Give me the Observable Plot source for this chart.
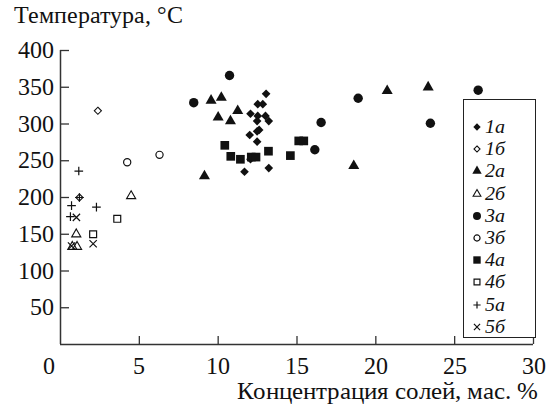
<!DOCTYPE html>
<html><head><meta charset="utf-8">
<script src="https://cdn.jsdelivr.net/npm/d3@7"></script>
<script src="https://cdn.jsdelivr.net/npm/@observablehq/plot@0.6"></script>
<style>
@font-face{font-family:'SerifX';font-style:normal;font-display:swap;src:local('Liberation Serif'),local('LiberationSerif'),local('Tinos'),local('Times New Roman');}
@font-face{font-family:'SerifX';font-style:italic;font-display:swap;src:local('Liberation Serif Italic'),local('LiberationSerif-Italic'),local('Tinos Italic');}
body{margin:0;background:#fff;}
#wrap{position:relative;width:555px;height:405px;font-family:'SerifX','Liberation Serif',serif;}
#legend{position:absolute;left:463px;top:99px;width:73px;height:239px;box-sizing:border-box;border:1.3px solid #222;background:#fff;padding-top:16px;}
.row{height:22.2px;display:flex;align-items:center;font-style:italic;font-size:19.5px;line-height:20px;color:#111;font-family:'SerifX','Liberation Serif',serif;}
.row svg{width:20px;height:20px;flex:none;}
</style></head>
<body><div id="wrap"></div>
<script>
// Series names (legend labels)
const series = ["1а","1б","2а","2б","3а","3б","4а","4б","5а","5б"];
// Salt concentration, wt % (x) and temperature, °C (y) per series
const x1a = [13.04,12.51,12.83,12.05,12.51,13.0,12.47,13.21,12.6,12.47,12.0,12.47,12.05,11.67,13.21];
const y1a = [341,327,327,314,311,311,304,304,292,290,285,276,252,235,240];
const x1b = [2.37,1.2];
const y1b = [318,200];
const x2a = [9.55,10.2,11.24,10.0,10.78,9.13,20.72,23.32,18.6];
const y2a = [332,336,318,309,304,229,345,350,243];
const x2b = [4.48,1.0,0.75,1.05];
const y2b = [202,150,133,133];
const x3a = [10.72,8.45,18.88,16.53,23.46,16.13,26.49];
const y3a = [366,329,335,302,301,265,346];
const x3b = [6.28,4.23];
const y3b = [258,248];
const x4a = [10.42,10.8,11.41,12.1,12.4,13.19,15.11,15.43,14.58];
const y4a = [271,256,252,255,255,263,277,277,257];
const x4b = [3.6,2.07];
const y4b = [171,150];
const x5a = [1.16,1.2,2.28,0.7,0.63];
const y5a = [236,200,187,189,174];
const x5b = [1.01,2.07,0.7];
const y5b = [173,137,134];
// Axis ticks
const xTicks = [5,10,15,20,25,30];
const yTicks = [50,100,150,200,250,300,350,400];
const title = "Температура, °C";
const xLabel = "Концентрация солей, мас. %";

const seriesData = [[x1a,y1a],[x1b,y1b],[x2a,y2a],[x2b,y2b],[x3a,y3a],[x3b,y3b],[x4a,y4a],[x4b,y4b],[x5a,y5a],[x5b,y5b]];
const table = series.map((s,i)=>({s, pts: seriesData[i][0].map((x,j)=>({x, y: seriesData[i][1][j], s}))}));

const ink = "#111";
const styles = {
  "1а":{symbol:"diamond2", r:3.9, fill:ink, stroke:"none", sw:0},
  "1б":{symbol:"diamond2", r:3.2, fill:"none", stroke:ink, sw:1.1},
  "2а":{symbol:"triangle", r:4.1, fill:ink, stroke:"none", sw:0},
  "2б":{symbol:"triangle", r:3.4, fill:"none", stroke:ink, sw:1.1},
  "3а":{symbol:"circle", r:4.7, fill:ink, stroke:"none", sw:0},
  "3б":{symbol:"circle", r:3.6, fill:"none", stroke:ink, sw:1.2},
  "4а":{symbol:"square", r:4.9, fill:ink, stroke:"none", sw:0},
  "4б":{symbol:"square", r:3.9, fill:"none", stroke:ink, sw:1.2},
  "5а":{symbol:"plus", r:2.9, fill:"none", stroke:ink, sw:1.2},
  "5б":{symbol:"times", r:3.4, fill:"none", stroke:ink, sw:1.2}
};

const fs = 24;
const fsLabel = 24;
const font = "SerifX, Liberation Serif, serif";
const axisColor = "#333";
const marks = [
  Plot.ruleX([0], {stroke: axisColor, strokeWidth: 1.5}),
  Plot.ruleY([0], {stroke: axisColor, strokeWidth: 1.5}),
  Plot.axisY({ticks: yTicks, tickSize: -9, tickPadding: 16, label: null, stroke: axisColor, strokeWidth: 1.3, fontSize: fs, fontFamily: font, fill: ink}),
  Plot.axisX({ticks: xTicks, tickSize: -8, tickPadding: 20, label: null, stroke: axisColor, strokeWidth: 1.3, fontSize: fs, fontFamily: font, fill: ink}),
  Plot.axisX({ticks: [0], tickSize: 0, tickPadding: 12, dx: -12, label: null, fontSize: fs, fontFamily: font, fill: ink}),
  Plot.text([title], {frameAnchor: "top-left", textAnchor: "start", lineAnchor: "bottom", dx: -47, dy: -28, fontSize: fsLabel, fontFamily: font, fill: ink}),
  Plot.text([xLabel], {frameAnchor: "bottom-right", textAnchor: "end", lineAnchor: "bottom", dx: 4, dy: 54, fontSize: 25, fontFamily: font, fill: ink})
];
for (const t of table) {
  const st = styles[t.s];
  marks.push(Plot.dot(t.pts, {x: "x", y: "y", symbol: st.symbol, r: st.r, fill: st.fill, stroke: st.stroke, strokeWidth: st.sw}));
}

const chart = Plot.plot({
  width: 555, height: 405,
  marginLeft: 60, marginRight: 22, marginTop: 50, marginBottom: 61,
  x: {domain: [0,30]},
  y: {domain: [0,400]},
  style: {fontFamily: font, fontSize: fs + "px", background: "#fff", color: ink, overflow: "visible"},
  marks
});
const wrap = document.getElementById("wrap");
wrap.appendChild(chart);

// Legend
const legend = document.createElement("div");
legend.id = "legend";
const symbolTypes = {diamond2: d3.symbolDiamond2, triangle: d3.symbolTriangle, circle: d3.symbolCircle, square: d3.symbolSquare, plus: d3.symbolPlus, times: d3.symbolTimes};
for (const s of series) {
  const st = styles[s];
  const r = st.r * 0.85;
  const path = d3.symbol(symbolTypes[st.symbol], r * r * Math.PI)();
  const row = document.createElement("div");
  row.className = "row";
  row.innerHTML = `<svg viewBox="0 0 20 20"><path transform="translate(13,10)" d="${path}" fill="${st.fill}" stroke="${st.stroke}" stroke-width="${st.sw}"/></svg><span style="margin-left:1px">${s}</span>`;
  legend.appendChild(row);
}
wrap.appendChild(legend);
</script>
</body></html>
